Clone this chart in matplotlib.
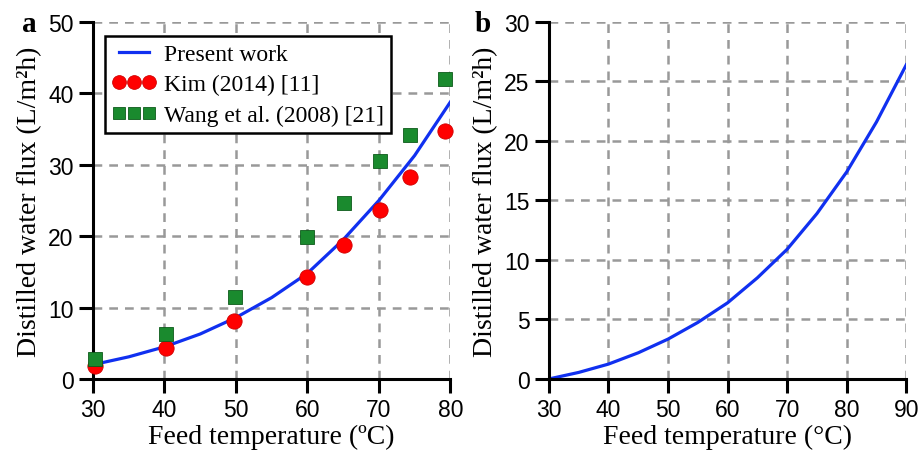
import numpy as np
import matplotlib
matplotlib.use("Agg")
import matplotlib.pyplot as plt

# panel a data
t_model_a = [30, 35, 40, 45, 50, 55, 60, 65, 70, 75, 80]
flux_model_a = [2.0, 3.1, 4.5, 6.3, 8.6, 11.4, 14.8, 19.5, 25.0, 31.3, 38.8]
t_kim = [30.3, 40.2, 49.7, 59.9, 65.1, 70.1, 74.3, 79.3]
flux_kim = [1.8, 4.3, 8.1, 14.3, 18.7, 23.6, 28.3, 34.8]
t_wang = [30.3, 40.2, 49.8, 59.9, 65.1, 70.1, 74.4, 79.3]
flux_wang = [2.8, 6.3, 11.5, 19.9, 24.7, 30.6, 34.2, 42.0]

# panel b data
t_model_b = [30, 35, 40, 45, 50, 55, 60, 65, 70, 75, 80, 85, 90]
flux_model_b = [0.0, 0.55, 1.25, 2.2, 3.35, 4.75, 6.4, 8.5, 10.9, 13.9, 17.4, 21.6, 26.4]

serif = "Liberation Serif"
sans = "Liberation Sans"

fig = plt.figure(figsize=(9.21, 4.6), dpi=100)
ax1 = fig.add_axes([0.101, 0.174, 0.388, 0.776])
ax2 = fig.add_axes([0.596, 0.174, 0.388, 0.776])


def style(ax):
    for s in ["top", "right"]:
        ax.spines[s].set_visible(False)
    for s in ["left", "bottom"]:
        ax.spines[s].set_linewidth(2.2)
    ax.tick_params(direction="out", length=10, width=2.2, labelsize=16.5, pad=4)
    for lab in ax.get_xticklabels() + ax.get_yticklabels():
        lab.set_family(sans)
    ax.grid(True, color="#999999", linestyle=(0, (3.5, 2.8)), linewidth=1.8)
    ax.set_axisbelow(True)


ax1.plot(t_model_a, flux_model_a, color="#1030f0", lw=2.3, label="Present work")
ax1.plot(t_kim, flux_kim, "o", color="#ff0000", mec="#d00000", mew=0.6, ms=11,
         label="Kim (2014) [11]", clip_on=False, zorder=3)
ax1.plot(t_wang, flux_wang, "s", color="#1a8a2e", mec="#0d5a1a", mew=0.6, ms=10,
         label="Wang et al. (2008) [21]", clip_on=False, zorder=3)
ax1.set_xlim(30, 80)
ax1.set_ylim(0, 50)
ax1.set_xticks(np.arange(30, 81, 10))
ax1.set_yticks(np.arange(0, 51, 10))
style(ax1)
ax1.set_xlabel("Feed temperature (ºC)", family=serif, fontsize=20, labelpad=2)
ax1.set_ylabel("Distilled water flux (L/m²h)", family=serif, fontsize=20, labelpad=4)
leg = ax1.legend(loc="upper left", bbox_to_anchor=(0.034, 0.96), numpoints=3,
                 prop={"family": serif, "size": 17}, fancybox=False, framealpha=1,
                 edgecolor="black", handlelength=1.85, handletextpad=0.35,
                 markerscale=0.9, borderpad=0.3, labelspacing=0.38,
                 borderaxespad=0.0)
leg.get_frame().set_linewidth(1.8)

ax2.plot(t_model_b, flux_model_b, color="#1030f0", lw=2.3)
ax2.set_xlim(30, 90)
ax2.set_ylim(0, 30)
ax2.set_xticks(np.arange(30, 91, 10))
ax2.set_yticks(np.arange(0, 31, 5))
style(ax2)
ax2.set_xlabel("Feed temperature (°C)", family=serif, fontsize=20, labelpad=2)
ax2.set_ylabel("Distilled water flux (L/m²h)", family=serif, fontsize=20, labelpad=4)

fig.text(0.024, 0.946, "a", family=serif, fontsize=21, fontweight="bold", va="center")
fig.text(0.515, 0.946, "b", family=serif, fontsize=21, fontweight="bold", va="center")

fig.savefig("out.png", dpi=100)
